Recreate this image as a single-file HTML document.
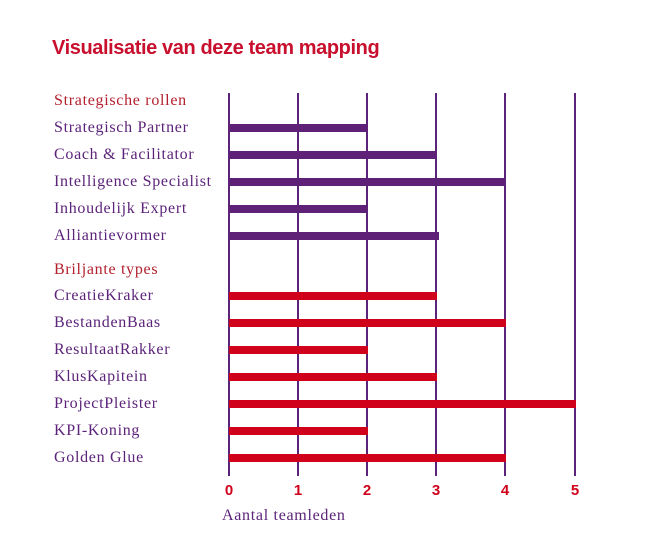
<!DOCTYPE html>
<html><head><style>
body{margin:0;background:#fff;width:667px;height:548px;position:relative;overflow:hidden;font-family:"Liberation Serif",serif}
.t{position:absolute;left:52px;top:37px;font:bold 20px "Liberation Sans",sans-serif;color:#c8102e;letter-spacing:-0.4px}
.l{position:absolute;left:54px;font-size:16px;color:#5b2379;line-height:18px;white-space:nowrap;letter-spacing:0.7px}
.h{color:#b3202e}
.g{position:absolute;top:93px;height:383px;width:2px;background:#5b2379}
.b{position:absolute;left:229px;height:8px}
.p{background:#5f2078}.r{background:#d0021b}
.n{position:absolute;top:482px;font:bold 15px "Liberation Sans",sans-serif;color:#d0021b;width:20px;text-align:center}
</style></head><body>
<div class="t">Visualisatie van deze team mapping</div>
<div class="l h" style="top:92px">Strategische rollen</div>
<div class="l" style="top:119px">Strategisch Partner</div>
<div class="l" style="top:146px">Coach &amp; Facilitator</div>
<div class="l" style="top:173px">Intelligence Specialist</div>
<div class="l" style="top:200px">Inhoudelijk Expert</div>
<div class="l" style="top:227px">Alliantievormer</div>
<div class="l h" style="top:261px">Briljante types</div>
<div class="l" style="top:287px">CreatieKraker</div>
<div class="l" style="top:314px">BestandenBaas</div>
<div class="l" style="top:341px">ResultaatRakker</div>
<div class="l" style="top:368px">KlusKapitein</div>
<div class="l" style="top:395px">ProjectPleister</div>
<div class="l" style="top:422px">KPI-Koning</div>
<div class="l" style="top:449px">Golden Glue</div>
<div class="g" style="left:228px"></div><div class="g" style="left:297px"></div><div class="g" style="left:366px"></div><div class="g" style="left:435px"></div><div class="g" style="left:504px"></div><div class="g" style="left:574px"></div>
<div class="b p" style="top:124px;width:139px"></div>
<div class="b p" style="top:151px;width:208px"></div>
<div class="b p" style="top:178px;width:277px"></div>
<div class="b p" style="top:205px;width:139px"></div>
<div class="b p" style="top:232px;width:210px"></div>
<div class="b r" style="top:292px;width:208px"></div>
<div class="b r" style="top:319px;width:277px"></div>
<div class="b r" style="top:346px;width:139px"></div>
<div class="b r" style="top:373px;width:208px"></div>
<div class="b r" style="top:400px;width:347px"></div>
<div class="b r" style="top:427px;width:139px"></div>
<div class="b r" style="top:454px;width:277px"></div>
<div class="n" style="left:219px">0</div><div class="n" style="left:288px">1</div><div class="n" style="left:357px">2</div><div class="n" style="left:426px">3</div><div class="n" style="left:495px">4</div><div class="n" style="left:565px">5</div>
<div class="l" style="left:222px;top:507px">Aantal teamleden</div>
</body></html>
